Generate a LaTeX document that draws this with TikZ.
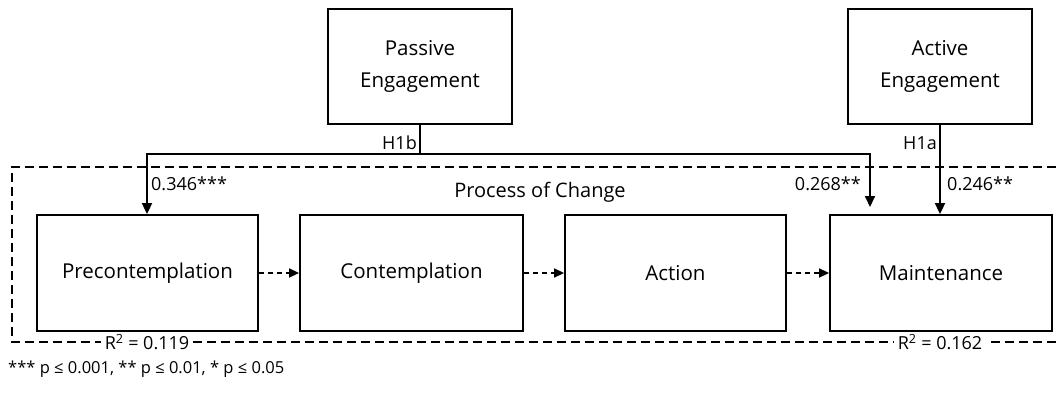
\documentclass[tikz,border=0pt]{standalone}
\usepackage{fontspec}
\setmainfont{Open Sans}
\usetikzlibrary{arrows.meta}
\begin{document}
\begin{tikzpicture}[x=1pt,y=-1pt,
  box/.style={draw,line width=1.8pt,minimum width=#1,inner sep=0pt,align=center,font=\fontsize{20.5}{32}\selectfont},
  conn/.style={line width=1.8pt,-{Triangle[length=11pt,width=10pt]}},
  dconn/.style={line width=1.5pt,dash pattern=on 5pt off 4pt,-{Triangle[length=10pt,width=9pt]}},
  lbl/.style={font=\fontsize{18}{22}\selectfont,inner sep=1pt},
  frame/.style={line width=1.5pt,dash pattern=on 9pt off 5pt}]
\useasboundingbox (0,0) rectangle (1058,393);
\clip (0,0) rectangle (1058,393);
% boxes
\node[box=184pt,minimum height=115pt] (pe) at (420,66.5) {Passive\\Engagement};
\node[box=184pt,minimum height=115pt] (ae) at (940,66.5) {Active\\Engagement};
\node[box=221pt,minimum height=116pt] (pc) at (147.5,273) {Precontemplation};
\node[box=223pt,minimum height=116pt] (ct) at (411.5,273) {Contemplation};
\node[box=221pt,minimum height=116pt] (ac) at (675.5,273) {Action};
\node[box=222pt,minimum height=116pt] (mt) at (941,273) {Maintenance};
% dashed frame
\coordinate (fTL) at (12,167);
\coordinate (fBL) at (12,342);
\draw[frame] (1070,167) -- (fTL) -- (fBL) -- (1070,342);
\node[lbl,fill=white,inner xsep=4pt,inner ysep=0pt] (r1) at (147,342) {R\textsuperscript{2} = 0.119};
\node[lbl,fill=white,inner xsep=4pt,inner ysep=0pt] (r2) at (940,342) {R\textsuperscript{2} = 0.162};
\node[font=\fontsize{20}{24}\selectfont] (poc) at (540,192) {Process of Change};
% connectors
\coordinate (j1) at (420,154);
\coordinate (jl) at (147,154);
\coordinate (jr) at (870,154);
\coordinate (mtop) at (870,207);
\draw[line width=1.8pt] (pe.south) -- (j1);
\draw[conn] (j1) -- (jl) -- (pc.north -| jl);
\draw[conn] (j1) -- (jr) -- (mtop);
\draw[conn] (ae.south) -- (mt.north -| ae.south);
\draw[dconn] (pc.east) -- (ct.west);
\draw[dconn] (ct.east) -- (ac.west);
\draw[dconn] (ac.east) -- (mt.west);
% labels
\node[lbl,anchor=south east] (h1b) at (418,151) {H1b};
\node[lbl,anchor=south east] (h1a) at (938,151) {H1a};
\node[lbl,anchor=west] (l1) at (150,184) {0.346***};
\node[lbl,anchor=east] (l2) at (862,184) {0.268**};
\node[lbl,anchor=west] (l3) at (946,184) {0.246**};
\node[font=\fontsize{16.5}{19}\selectfont,anchor=west,inner sep=0pt] (fn) at (8,369) {*** p ≤ 0.001, ** p ≤ 0.01, * p ≤ 0.05};
\end{tikzpicture}
\end{document}
